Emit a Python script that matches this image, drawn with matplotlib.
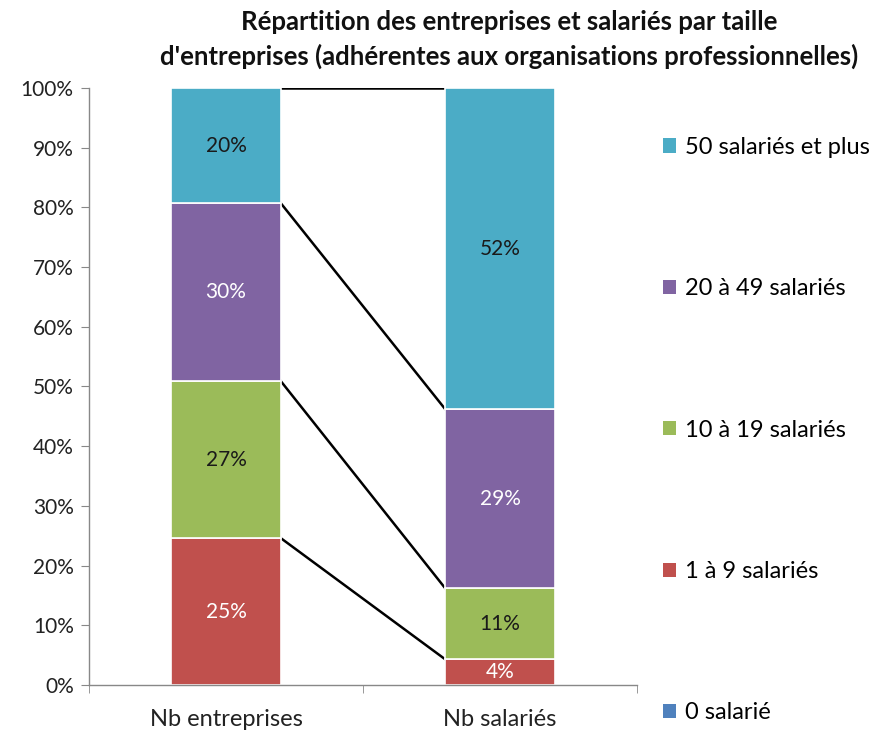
import matplotlib.pyplot as plt
import numpy as np

plt.rcParams['font.family'] = ['Lato', 'DejaVu Sans']

# categories and series (share of total, %)
categories = ['Nb entreprises', 'Nb salariés']
series = ['0 salarié', '1 à 9 salariés', '10 à 19 salariés', '20 à 49 salariés', '50 salariés et plus']
colors = ['#4F81BD', '#C0504D', '#9BBB59', '#8064A2', '#4BACC6']

entreprises = [0.0, 24.6, 26.3, 29.8, 19.3]
salaries = [0.0, 4.3, 11.9, 30.0, 53.8]

# labels as shown on the chart
labels_entreprises = ['', '25%', '27%', '30%', '20%']
labels_salaries = ['', '4%', '11%', '29%', '52%']
label_colors = ['white', 'white', '#1a1a1a', 'white', '#1a1a1a']

fig = plt.figure(figsize=(8.89, 7.32), dpi=100)
ax = fig.add_axes([0.1001, 0.0642, 0.6165, 0.8156])

x = np.arange(len(categories))
width = 0.4
data = np.array([entreprises, salaries]).T
bottoms = np.zeros(len(categories))
handles = []
for i, name in enumerate(series):
    b = ax.bar(x, data[i], width, bottom=bottoms, color=colors[i],
               edgecolor='white', linewidth=1.2, label=name, zorder=2)
    handles.append(b)
    labs = [labels_entreprises[i], labels_salaries[i]]
    for j in range(len(categories)):
        if labs[j]:
            ax.text(x[j], bottoms[j] + data[i][j] / 2, labs[j], ha='center', va='center',
                    color=label_colors[i], fontsize=15, zorder=3)
    bottoms = bottoms + data[i]
    # series line between the bars
    if i > 0:
        ax.plot([x[0] + width / 2, x[1] - width / 2], [bottoms[0], bottoms[1]],
                color='black', linewidth=1.8, zorder=1)

ax.set_xlim(-0.5, 1.5)
ax.set_ylim(0, 100)
ax.set_yticks(np.arange(0, 101, 10))
ax.set_yticklabels([f'{v}%' for v in range(0, 101, 10)], fontsize=15, color='#222222')
ax.set_xticks(x)
ax.set_xticklabels(categories, fontsize=17, color='#222222')
ax.set_xticks([-0.5, 0.5, 1.5], minor=True)
ax.tick_params(axis='x', which='major', length=0, pad=17)
ax.tick_params(axis='x', which='minor', length=6, color='#888888', direction='out')
ax.tick_params(axis='y', length=6, color='#888888', direction='out', pad=5)
for s in ['top', 'right']:
    ax.spines[s].set_visible(False)
for s in ['left', 'bottom']:
    ax.spines[s].set_color('#888888')
    ax.spines[s].set_linewidth(1.0)

leg = fig.legend(handles[::-1], series[::-1], loc='upper left',
                 bbox_to_anchor=(0.735, 0.826), frameon=False, fontsize=17,
                 handlelength=0.55, handleheight=0.55, handletextpad=0.4,
                 labelspacing=5.1, borderaxespad=0)
for h in leg.legend_handles:
    h.set_edgecolor('none')

fig.text(0.573, 0.986, 'Répartition des entreprises et salariés par taille\n'
         "d'entreprises (adhérentes aux organisations professionnelles)",
         ha='center', va='top', fontsize=18.5, fontweight='bold', color='#111111',
         linespacing=1.45)

fig.savefig('out.png', dpi=100)
